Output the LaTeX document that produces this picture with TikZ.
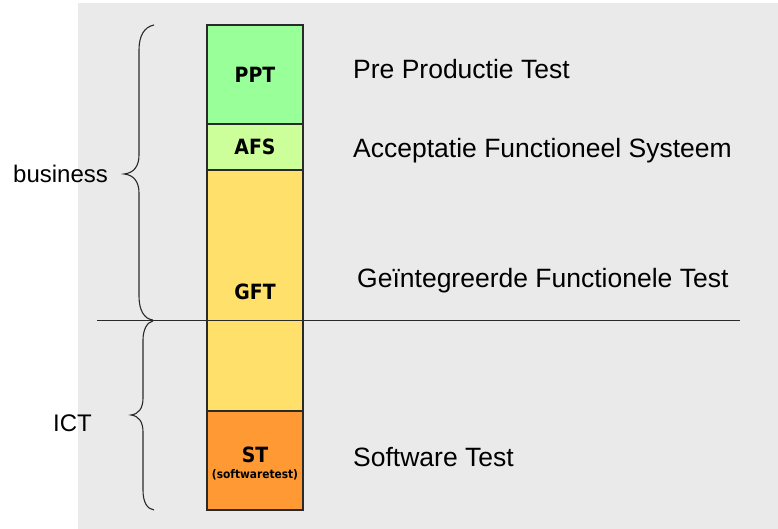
\documentclass[tikz,border=0pt]{standalone}
\usepackage{fontspec}
\setmainfont{Liberation Sans}
\newfontfamily\boxfont{DejaVu Sans Condensed}
\definecolor{bggray}{HTML}{EAEAEA}
\definecolor{pptgreen}{HTML}{99FF99}
\definecolor{afsgreen}{HTML}{CCFF99}
\definecolor{gftyellow}{HTML}{FFE06B}
\definecolor{storange}{HTML}{FF9933}
\definecolor{edge}{HTML}{2A2A2A}
\begin{document}
\begin{tikzpicture}[x=1pt,y=-1pt,
  layer/.style={draw=edge,line width=1.3pt,inner sep=0pt,outer sep=0pt,anchor=north west,minimum width=96pt},
  boxlbl/.style={font=\boxfont\bfseries\fontsize{21}{24}\selectfont,anchor=base,inner sep=0pt},
  sidelbl/.style={font=\fontsize{26.5}{30}\selectfont,anchor=base west,inner sep=0pt},
  grouplbl/.style={font=\fontsize{24}{28}\selectfont,anchor=base west,inner sep=0pt},
  bracepath/.style={draw=edge,line width=1.1pt}]
\useasboundingbox (0,0) rectangle (778,529);
\fill[white] (0,0) rectangle (778,529);
\fill[bggray] (78,3) rectangle (778,529);
% layers
\node[layer,fill=pptgreen,minimum height=99pt] (ppt) at (207,25) {};
\node[layer,fill=afsgreen,minimum height=46pt] (afs) at (207,124) {};
\node[layer,fill=gftyellow,minimum height=241pt] (gft) at (207,170) {};
\node[layer,fill=storange,minimum height=99pt] (st) at (207,411) {};
% box labels
\node[boxlbl] (pptl) at (255,82.5) {PPT};
\node[boxlbl] (afsl) at (255,155) {AFS};
\node[boxlbl] (gftl) at (255,299) {GFT};
\node[boxlbl] (stl) at (255,462) {ST};
\node[font=\boxfont\bfseries\fontsize{11.8}{13}\selectfont,inner sep=0pt] (stsub) at (255,474.5) {(softwaretest)};
% separator line
\coordinate (sepL) at (97,320);
\coordinate (sepR) at (740,320);
\draw[edge,line width=1pt] (sepL) -- (sepR);
% side labels
\node[sidelbl] (lppt) at (353,79) {Pre Productie Test};
\node[sidelbl] (lafs) at (353,158) {Acceptatie Functioneel Systeem};
\node[sidelbl] (lgft) at (357,287) {Geïntegreerde Functionele Test};
\node[sidelbl] (lst) at (353,466.5) {Software Test};
% braces
\coordinate (bTop) at (154,25);
\coordinate (bTip) at (124,174);
\coordinate (bBot) at (153,320);
\draw[bracepath] (bTop) .. controls (144,27) and (139,36) .. (139,50)
  -- (139,155) .. controls (139,166) and (134,173) .. (bTip)
  .. controls (134,175) and (139,182) .. (139,193)
  -- (139,296) .. controls (139,310) and (144,319) .. (bBot);
\coordinate (iTop) at (153,321);
\coordinate (iTip) at (131,415);
\coordinate (iBot) at (154,510);
\draw[bracepath] (iTop) .. controls (147,322) and (143,330) .. (143,340)
  -- (143,398) .. controls (143,408) and (139,414) .. (iTip)
  .. controls (139,416) and (143,422) .. (143,432)
  -- (143,490) .. controls (143,502) and (147,509) .. (iBot);
\node[grouplbl] (business) at (13,183) {business};
\node[grouplbl] (ict) at (53,431.5) {ICT};
\end{tikzpicture}
\end{document}
